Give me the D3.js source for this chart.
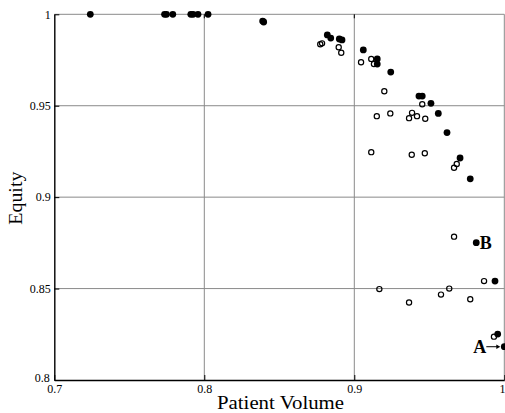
<!DOCTYPE html>
<html>
<head>
<meta charset="utf-8">
<script src="https://cdn.jsdelivr.net/npm/d3@7"></script>
<style>
  html, body { margin: 0; padding: 0; background: #fff; }
  svg { display: block; }
</style>
</head>
<body>
<svg id="chart" width="505" height="413"></svg>
<script>
// Filled markers
const filledX = [0.724, 0.7735, 0.7748, 0.779, 0.791, 0.7925, 0.7958, 0.8025,
  0.8389, 0.8396, 0.882, 0.8843, 0.89, 0.8918, 0.906, 0.9153, 0.9153, 0.9243,
  0.9431, 0.9453, 0.9511, 0.956, 0.9618, 0.9705, 0.9773, 0.9813, 0.9938, 0.9956, 1.0];
const filledY = [1, 1, 1, 1, 1, 1, 1, 1,
  0.9963, 0.9958, 0.9887, 0.987, 0.9865, 0.986, 0.9805, 0.9756, 0.9728, 0.9684,
  0.9553, 0.9553, 0.9513, 0.9458, 0.9353, 0.9214, 0.91, 0.8751, 0.8541, 0.8251, 0.8182];

// Open markers
const openX = [0.8773, 0.8785, 0.8896, 0.8913, 0.9045, 0.9113, 0.9131, 0.92,
  0.9453, 0.915, 0.924, 0.9385, 0.9365, 0.9418, 0.9473, 0.9113, 0.9383, 0.947,
  0.9683, 0.9665, 0.9665, 0.9865, 0.9167, 0.9365, 0.9578, 0.9633, 0.9773, 0.9931];
const openY = [0.9836, 0.9841, 0.982, 0.979, 0.9738, 0.9756, 0.9728, 0.9579,
  0.9508, 0.9443, 0.9458, 0.9461, 0.9432, 0.9443, 0.9429, 0.9246, 0.9232, 0.924,
  0.9181, 0.9161, 0.8784, 0.8541, 0.8497, 0.8424, 0.8467, 0.85, 0.8442, 0.8237];

const xTicks = [0.7, 0.8, 0.9, 1.0];
const yTicks = [0.8, 0.85, 0.9, 0.95, 1.0];
const xTickLabels = ["0.7", "0.8", "0.9", "1"];
const yTickLabels = ["0.8", "0.85", "0.9", "0.95", "1"];

// Annotated points: [index into filled arrays, label]
const callouts = [[25, "B"], [28, "A"]];

const SERIF = '"Liberation Serif", "Times New Roman", serif';
const svg = d3.select("#chart");
const mLeft = 54.3, mRight = 504.3, mTop = 14.3, mBottom = 380;

const x = d3.scaleLinear().domain([0.7, 1.0]).range([mLeft, mRight]);
const y = d3.scaleLinear().domain([0.8, 1.0]).range([mBottom, mTop]);

// grid lines
const grid = svg.append("g").attr("stroke", "#8a8a8a").attr("stroke-width", 1);
grid.selectAll("line.v").data(xTicks.slice(1)).join("line")
  .attr("x1", d => x(d)).attr("x2", d => x(d))
  .attr("y1", mTop).attr("y2", mBottom);
grid.selectAll("line.h").data(yTicks.slice(1)).join("line")
  .attr("x1", mLeft).attr("x2", mRight)
  .attr("y1", d => y(d)).attr("y2", d => y(d));

// axes (left and bottom) with inward ticks
const yAxis = d3.axisLeft(y).tickValues(yTicks)
  .tickFormat((d, i) => yTickLabels[i]).tickSizeInner(-5).tickSizeOuter(0).tickPadding(4);
const gy = svg.append("g").attr("transform", `translate(${mLeft},0)`).call(yAxis);
gy.select(".domain").attr("stroke", "#000").attr("stroke-width", 1.4);
gy.selectAll(".tick line").attr("stroke", "#000");
gy.selectAll(".tick text").style("font-family", SERIF).style("font-size", "12px")
  .attr("x", -3.5);
// lowest label shares the corner with the first x label; lift it a little
gy.selectAll(".tick text").filter(d => d === 0.8).attr("x", -4.5).attr("dy", "0.1em");

const xAxis = d3.axisBottom(x).tickValues(xTicks)
  .tickFormat((d, i) => xTickLabels[i]).tickSizeInner(-5).tickSizeOuter(0).tickPadding(4);
const gx = svg.append("g").attr("transform", `translate(0,${mBottom})`).call(xAxis);
gx.select(".domain").attr("stroke", "#000").attr("stroke-width", 1.4);
gx.selectAll(".tick line").attr("stroke", "#000");
gx.selectAll(".tick text").style("font-family", SERIF).style("font-size", "12px")
  .attr("y", 4.5);
// the last label sits at the window's right edge; keep it inside
gx.selectAll(".tick text").filter(d => d === 1.0).attr("text-anchor", "end").attr("x", 0.7);

// small ticks along the top edge
svg.append("g").selectAll("line").data(xTicks.slice(1, 3)).join("line")
  .attr("x1", d => x(d)).attr("x2", d => x(d))
  .attr("y1", mTop).attr("y2", mTop + 4)
  .attr("stroke", "#000");

// open markers
svg.append("g").selectAll("circle").data(openX.map((v, i) => [v, openY[i]])).join("circle")
  .attr("cx", d => x(d[0])).attr("cy", d => y(d[1])).attr("r", 2.6)
  .attr("fill", "none").attr("stroke", "#000").attr("stroke-width", 1.2);

// filled markers
svg.append("g").selectAll("circle").data(filledX.map((v, i) => [v, filledY[i]])).join("circle")
  .attr("cx", d => x(d[0])).attr("cy", d => y(d[1])).attr("r", 3.4)
  .attr("fill", "#000");

// callout labels
const [bi, bl] = callouts[0];
svg.append("text")
  .attr("x", x(filledX[bi]) + 3.5).attr("y", y(filledY[bi]) + 6.5)
  .style("font-family", SERIF).style("font-size", "18px").style("font-weight", "bold")
  .text(bl);

const [ai, al] = callouts[1];
const ax = x(filledX[ai]), ay = y(filledY[ai]);
svg.append("text")
  .attr("x", ax - 31).attr("y", ay + 6.5)
  .style("font-family", SERIF).style("font-size", "18px").style("font-weight", "bold")
  .text(al);
svg.append("line")
  .attr("x1", ax - 18).attr("x2", ax - 7).attr("y1", ay).attr("y2", ay)
  .attr("stroke", "#000").attr("stroke-width", 1);
svg.append("path")
  .attr("d", `M${ax - 4},${ay} L${ax - 8},${ay - 2.2} L${ax - 8},${ay + 2.2} Z`)
  .attr("fill", "#000");

// axis titles
svg.append("text")
  .attr("x", 280.5).attr("y", 409)
  .attr("text-anchor", "middle")
  .style("font-family", SERIF).style("font-size", "18px")
  .attr("textLength", 127).attr("lengthAdjust", "spacingAndGlyphs")
  .text("Patient Volume");

svg.append("text")
  .attr("transform", `translate(22,${(mTop + mBottom) / 2 + 1}) rotate(-90)`)
  .attr("text-anchor", "middle")
  .style("font-family", SERIF).style("font-size", "18px")
  .attr("textLength", 53).attr("lengthAdjust", "spacingAndGlyphs")
  .text("Equity");
</script>
</body>
</html>
